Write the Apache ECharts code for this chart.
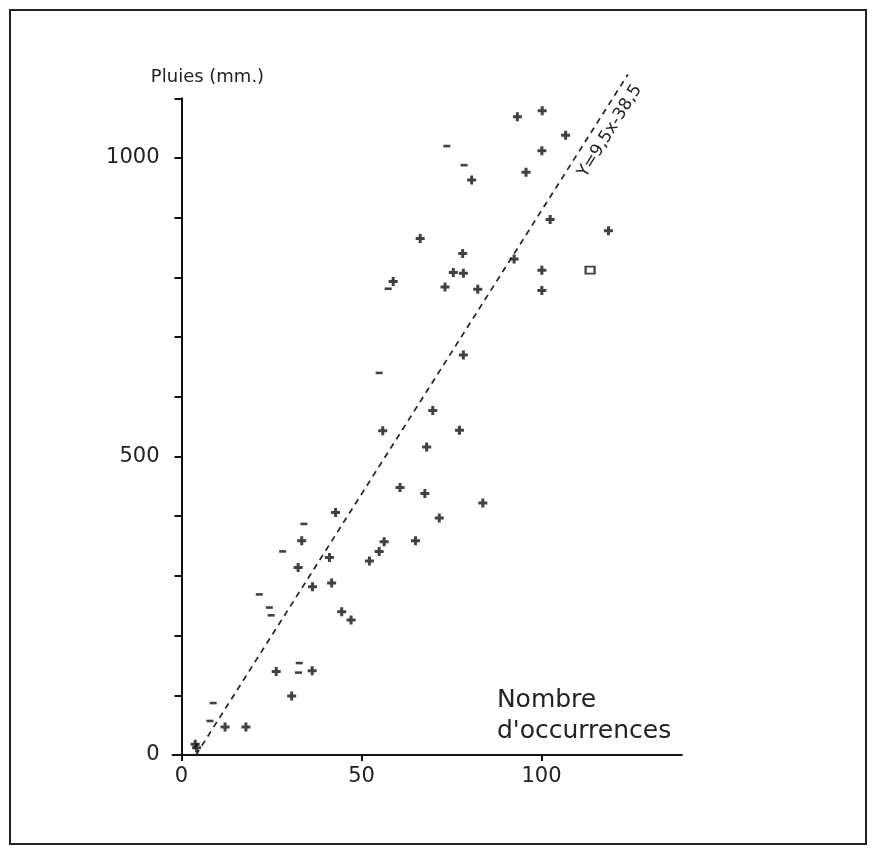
<!DOCTYPE html>
<html><head><meta charset="utf-8">
<script src="https://cdn.jsdelivr.net/npm/echarts@6/dist/echarts.min.js"></script>
<style>html,body{margin:0;padding:0;background:#fff}#c{width:873px;height:848px}</style>
</head><body><div id="c"></div>
<script>
// ---- data ----
const xTickValues = [0, 50, 100];
const yTickLabels = [0, 500, 1000];
const xName = "Nombre\nd'occurrences";
const yName = "Pluies (mm.)";
const crossPoints = [
  [93.3,1069],[100.2,1079],[106.7,1038],[100.1,1012],[80.6,963],[95.7,976],
  [102.4,897],[118.6,878],[66.3,865],[78.1,840],[92.4,831],[75.5,808],[78.3,807],
  [100.1,812],[58.8,793],[73.2,784],[82.3,780],[100.1,778],[78.3,670],[69.8,577],
  [55.9,543],[77.2,544],[68.1,516],[60.7,448],[67.6,438],[83.7,422],[71.6,397],
  [42.8,406],[33.4,359],[41.1,331],[56.3,357],[54.9,341],[52.2,325],[65.0,359],
  [32.4,314],[36.4,282],[41.7,288],[44.5,240],[47.1,226],[26.3,140],[36.3,141],
  [30.6,99],[12.1,47],[17.9,47],[3.8,18],[4.2,12]
];
const dashPoints = [
  [73.7,1020],[78.5,988],[57.4,781],[54.9,640],[34.0,387],[28.1,341],[21.6,269],
  [24.4,247],[24.9,234],[32.7,154],[32.5,138],[8.8,87],[7.9,57]
];
const squarePoints = [[113.5,812]];
const fitLine = [[4,0],[124,1140]];
const fitLabel = "Y=9,5x-38,5";
const fitLabelAnchor = [119,1045];

// ---- chart ----
const ink = '#111';
const txt = '#222';
const font = 'DejaVu Sans';
const plus = 'path://M3,0H6V3H9V6H6V9H3V6H0V3H3Z';
const chart = echarts.init(document.getElementById('c'), null, {renderer: 'canvas'});
const option = {
  backgroundColor: '#fff',
  animation: false,
  grid: {left: 172.5, right: 191.1, top: 98.3, bottom: 93},
  xAxis: {
    type: 'value', min: -2.5, max: 139,
    name: xName, nameLocation: 'end', nameGap: -185,
    nameTextStyle: {fontFamily: font, fontSize: 25, color: txt, align: 'left', verticalAlign: 'bottom', lineHeight: 31, padding: [0,0,8,0]},
    axisLine: {onZero: false, lineStyle: {color: ink, width: 2}},
    axisTick: {show: true, customValues: xTickValues, length: 6, lineStyle: {color: ink, width: 2}},
    axisLabel: {customValues: xTickValues, margin: 11, fontFamily: font, fontSize: 21, color: txt,
                formatter: v => String(v)},
    splitLine: {show: false}
  },
  yAxis: {
    type: 'value', min: 0, max: 1100, interval: 100,
    name: yName, nameLocation: 'end', nameGap: 12,
    nameTextStyle: {fontFamily: font, fontSize: 18, color: txt, padding: [0,0,0,52]},
    axisLine: {onZero: true, lineStyle: {color: ink, width: 2}},
    axisTick: {show: true, length: 7, lineStyle: {color: ink, width: 2}},
    axisLabel: {customValues: yTickLabels, margin: 13, fontFamily: font, fontSize: 21, color: txt,
                formatter: v => String(v)},
    splitLine: {show: false}
  },
  series: [
    {type: 'line', data: fitLine, symbol: 'none', clip: false, silent: true, z: 1,
     lineStyle: {color: '#222', width: 1.7, type: [6,5]}},
    {type: 'scatter', data: crossPoints, symbol: plus, symbolSize: 9, z: 3,
     itemStyle: {color: ink}},
    {type: 'scatter', data: dashPoints, symbol: 'rect', symbolSize: [7,2.6], z: 3,
     itemStyle: {color: ink}},
    {type: 'scatter', data: squarePoints, symbol: 'rect', symbolSize: [9,7], z: 3,
     itemStyle: {color: '#fff', borderColor: ink, borderWidth: 2}}
  ]
};
chart.setOption(option);
const p = chart.convertToPixel({gridIndex: 0}, fitLabelAnchor);
chart.setOption({
  graphic: [
    {type: 'rect', shape: {x: 10, y: 10, width: 856, height: 834}, silent: true,
     style: {fill: 'none', stroke: '#222', lineWidth: 2}},
    {type: 'text', x: p[0], y: p[1], rotation: 58 * Math.PI / 180, silent: true,
     style: {text: fitLabel, fontFamily: font, fontSize: 17, fill: txt, align: 'center', verticalAlign: 'middle'}}
  ]
});
</script></body></html>
